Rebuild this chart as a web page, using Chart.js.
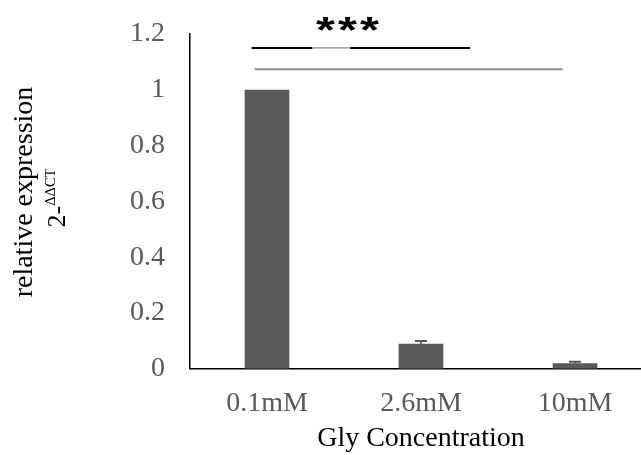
<!DOCTYPE html>
<html>
<head>
<meta charset="utf-8">
<script src="https://cdn.jsdelivr.net/npm/chart.js@4.4.0/dist/chart.umd.min.js"></script>
<style>
  html, body { margin: 0; padding: 0; background: #fff; overflow: hidden; }
  #wrap { width: 652px; height: 455px; }
</style>
</head>
<body>
<div id="wrap"><canvas id="qpcrChart"></canvas></div>
<script>
// data
const categories = ['0.1mM', '2.6mM', '10mM'];
const expression = [1.0, 0.09, 0.02];
const errors = [0, 0.0095, 0.005];
const yTicks = [0, 0.2, 0.4, 0.6, 0.8, 1, 1.2];

// significance brackets: from / to category index, height in y units
const sigFrom = [-0.1, -0.08];
const sigTo = [1.32, 1.92];
const sigLevel = [1.15, 1.074];
const sigColor = ['#000000', '#8c8c8c'];
const sigStars = 3;

const serif = '"Liberation Serif", "Times New Roman", serif';

const extrasPlugin = {
    id: 'extras',
    afterDatasetsDraw(chart) {
        const ctx = chart.ctx;
        const x = chart.scales.x;
        const y = chart.scales.y;
        const meta = chart.getDatasetMeta(0);

        // error bars (upper only)
        ctx.save();
        ctx.strokeStyle = '#595959';
        ctx.lineWidth = 2;
        meta.data.forEach((bar, i) => {
            if (!errors[i]) return;
            const top = y.getPixelForValue(expression[i] + errors[i]);
            ctx.beginPath();
            ctx.moveTo(bar.x, bar.y);
            ctx.lineTo(bar.x, top);
            ctx.moveTo(bar.x - 6, top);
            ctx.lineTo(bar.x + 6, top);
            ctx.stroke();
        });

        // significance lines
        const x0 = x.getPixelForValue(0);
        const step = x.getPixelForValue(1) - x0;
        for (let i = sigLevel.length - 1; i >= 0; i--) {
            const py = y.getPixelForValue(sigLevel[i]);
            ctx.strokeStyle = sigColor[i];
            ctx.lineWidth = 2;
            ctx.beginPath();
            ctx.moveTo(x0 + sigFrom[i] * step, py);
            ctx.lineTo(x0 + sigTo[i] * step, py);
            ctx.stroke();
        }
        // the black line has a faint grey stretch in the middle
        const pyTop = y.getPixelForValue(sigLevel[0]);
        ctx.strokeStyle = '#fff';
        ctx.lineWidth = 2.5;
        ctx.beginPath();
        ctx.moveTo(x0 + 0.295 * step, pyTop);
        ctx.lineTo(x0 + 0.54 * step, pyTop);
        ctx.stroke();
        ctx.strokeStyle = '#8c8c8c';
        ctx.lineWidth = 1.2;
        ctx.beginPath();
        ctx.moveTo(x0 + 0.295 * step, pyTop);
        ctx.lineTo(x0 + 0.54 * step, pyTop);
        ctx.stroke();

        // stars, a bit squat and wide like the original
        ctx.fillStyle = '#000';
        ctx.font = 'bold 36px "Liberation Sans", Arial, sans-serif';
        ctx.textAlign = 'center';
        ctx.textBaseline = 'alphabetic';
        const starY = y.getPixelForValue(1.2) + 9;
        for (let s = 0; s < sigStars; s++) {
            ctx.save();
            ctx.translate(x0 + 0.38 * step + s * 22, starY);
            ctx.scale(1.35, 1);
            ctx.fillText('*', 0, 0);
            ctx.restore();
        }

        // y axis title with superscript
        ctx.translate(0, 198);
        ctx.rotate(-Math.PI / 2);
        ctx.textAlign = 'center';
        ctx.textBaseline = 'middle';
        ctx.font = '28px ' + serif;
        ctx.fillText('relative expression', 6, 25);
        ctx.textBaseline = 'alphabetic';
        ctx.font = '26px ' + serif;
        const w1 = ctx.measureText('2-').width;
        ctx.font = '14.5px ' + serif;
        const w2 = ctx.measureText('ΔΔCT').width;
        const sx = -(w1 + w2) / 2;
        ctx.textAlign = 'left';
        ctx.font = '26px ' + serif;
        ctx.fillText('2-', sx, 65);
        ctx.font = '14.5px ' + serif;
        ctx.fillText('ΔΔCT', sx + w1, 55);
        ctx.restore();
    }
};

function initChart() {
    const ctx = document.getElementById('qpcrChart').getContext('2d');
    new Chart(ctx, {
        type: 'bar',
        data: {
            labels: categories,
            datasets: [{
                data: expression,
                backgroundColor: '#595959',
                borderWidth: 0,
                barPercentage: 0.58,
                categoryPercentage: 0.5
            }]
        },
        options: {
            responsive: true,
            maintainAspectRatio: false,
            animation: false,
            layout: { padding: { top: 34, right: 0, left: 0, bottom: 0 } },
            plugins: {
                legend: { display: false },
                tooltip: { enabled: false }
            },
            scales: {
                x: {
                    grid: { display: false, drawTicks: false },
                    border: { color: '#000', width: 1.5 },
                    ticks: {
                        color: '#595959',
                        padding: 18,
                        font: { family: serif, size: 28 }
                    },
                    title: {
                        display: true,
                        text: 'Gly Concentration',
                        color: '#000',
                        padding: { top: -17, bottom: 0 },
                        font: { family: serif, size: 28 }
                    }
                },
                y: {
                    min: 0,
                    max: 1.2,
                    afterFit(scale) {
                        scale.width = 190;
                        // tick padding would otherwise push the plot down
                        scale.paddingTop = 0;
                        scale.paddingBottom = 0;
                    },
                    afterBuildTicks(scale) {
                        scale.ticks = yTicks.map(v => ({ value: v }));
                    },
                    grid: { display: false, drawTicks: false },
                    border: { color: '#000', width: 1.5 },
                    ticks: {
                        color: '#595959',
                        padding: 25,
                        font: { family: serif, size: 28 },
                        callback: function(value) {
                            return String(value);
                        }
                    }
                }
            }
        },
        plugins: [extrasPlugin]
    });
}

window.onload = function() {
    initChart();
};
</script>
</body>
</html>
